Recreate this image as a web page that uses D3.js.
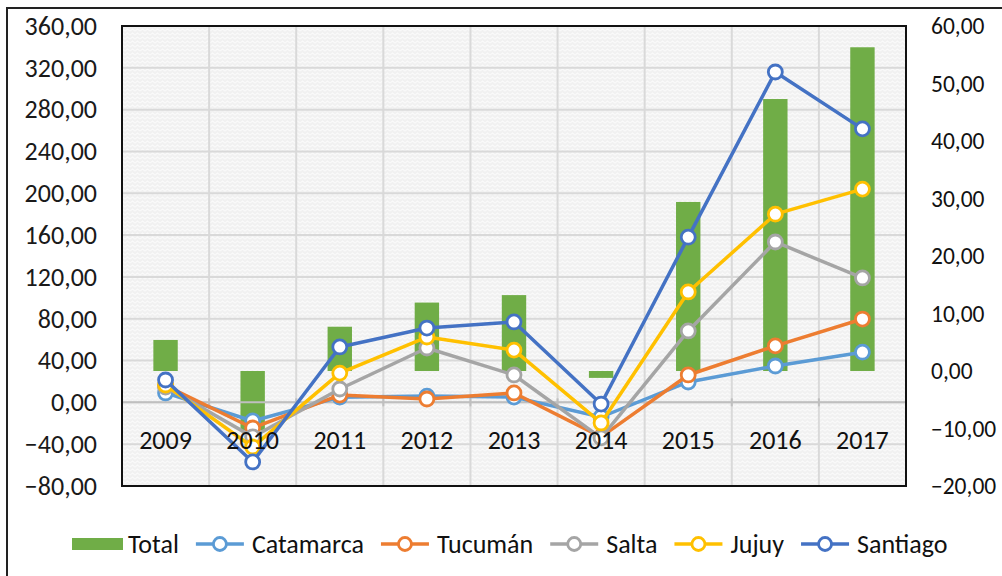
<!DOCTYPE html>
<html>
<head>
<meta charset="utf-8">
<script src="https://cdn.jsdelivr.net/npm/d3@7"></script>
<style>
  body { margin: 0; background: #fff; }
  svg text { font-family: Carlito, Lato, "Open Sans", sans-serif; fill: #111; }
</style>
</head>
<body>
<div id="chart"></div>
<script>
// data
const years = ["2009", "2010", "2011", "2012", "2013", "2014", "2015", "2016", "2017"];
const total     = [5.4, -10.3, 7.7, 11.9, 13.2, -1.2, 29.4, 47.3, 56.3];   // right axis
const catamarca = [9, -17.8, 5, 6, 5, -14, 19.5, 34.8, 48];
const tucuman   = [16, -24.5, 7, 3.2, 9, -33, 26.2, 54, 79.7];
const salta     = [14.7, -33, 12.8, 52, 26.2, -34, 68.3, 153.4, 119];
const jujuy     = [16.6, -42.7, 28, 62.5, 50, -19.7, 105.6, 180, 204];
const santiago  = [21.4, -57, 53, 71.1, 76.9, -1.6, 158, 316, 261.6];
const leftTicks  = [-80, -40, 0, 40, 80, 120, 160, 200, 240, 280, 320, 360];
const rightTicks = [-20, -10, 0, 10, 20, 30, 40, 50, 60];

const series = [
  {name: "Catamarca", values: catamarca, color: "#5b9bd5"},
  {name: "Tucumán",   values: tucuman,   color: "#ed7d31"},
  {name: "Salta",     values: salta,     color: "#a5a5a5"},
  {name: "Jujuy",     values: jujuy,     color: "#ffc000"},
  {name: "Santiago",  values: santiago,  color: "#4472c4"}
];
const green = "#70ad47";

const W = 1002, H = 576;
const plot = {left: 122, right: 906, top: 26, bottom: 486};
const fs = 26;

const svg = d3.select("#chart").append("svg")
  .attr("width", W).attr("height", H);

// texture for the plot area
const defs = svg.append("defs");
const pat = defs.append("pattern")
  .attr("id", "tex").attr("patternUnits", "userSpaceOnUse")
  .attr("width", 10).attr("height", 8);
pat.append("rect").attr("width", 10).attr("height", 8).attr("fill", "#f1f1f1");
pat.append("path").attr("d", "M0,3 L2.5,1 L5,3 L7.5,1 L10,3 M0,7 L2.5,5 L5,7 L7.5,5 L10,7")
  .attr("fill", "none").attr("stroke", "#fafafa").attr("stroke-width", 1.2);

// outer frame (cut at right and bottom, like the source)
svg.append("rect")
  .attr("x", 7).attr("y", 8).attr("width", 1010).attr("height", 600)
  .attr("fill", "none").attr("stroke", "#222").attr("stroke-width", 2);

const x = d3.scaleBand().domain(years).range([plot.left, plot.right]);
const yL = d3.scaleLinear().domain([-80, 360]).range([plot.bottom, plot.top]);
const yR = d3.scaleLinear().domain([-20, 60]).range([plot.bottom, plot.top]);

svg.append("rect")
  .attr("x", plot.left).attr("y", plot.top)
  .attr("width", plot.right - plot.left).attr("height", plot.bottom - plot.top)
  .attr("fill", "url(#tex)");

// gridlines
svg.append("g").selectAll("line").data(leftTicks).join("line")
  .attr("x1", plot.left).attr("x2", plot.right)
  .attr("y1", d => yL(d)).attr("y2", d => yL(d))
  .attr("stroke", "#d9d9d9").attr("stroke-width", 2);
svg.append("g").selectAll("line").data(years.slice(1)).join("line")
  .attr("x1", d => x(d)).attr("x2", d => x(d))
  .attr("y1", plot.top).attr("y2", plot.bottom)
  .attr("stroke", "#d9d9d9").attr("stroke-width", 2);

const fmt = d => d3.format(".2f")(d).replace(".", ",");

// left axis
svg.append("g")
  .attr("transform", `translate(${plot.left},0)`)
  .call(d3.axisLeft(yL).tickValues(leftTicks).tickSize(0).tickPadding(25).tickFormat(fmt))
  .call(g => g.select(".domain").remove())
  .selectAll("text").attr("font-size", fs).style("fill", "#1a1a1a");

// right axis
svg.append("g")
  .attr("transform", `translate(${plot.right},0)`)
  .call(d3.axisRight(yR).tickValues(rightTicks).tickSize(0).tickPadding(25).tickFormat(fmt))
  .call(g => g.select(".domain").remove())
  .selectAll("text").attr("font-size", 23.5).style("fill", "#111");

// bars (Total, right axis)
const bw = x.bandwidth() * 0.28;
svg.append("g").selectAll("rect").data(total).join("rect")
  .attr("x", (d, i) => x(years[i]) + x.bandwidth() / 2 - bw / 2)
  .attr("width", bw)
  .attr("y", d => yR(Math.max(0, d)))
  .attr("height", d => Math.abs(yR(d) - yR(0)))
  .attr("fill", green);

// category axis at left zero
const cat = svg.append("g").attr("transform", `translate(0,${yL(0)})`);
cat.append("line").attr("x1", plot.left).attr("x2", plot.right)
  .attr("stroke", "#bfbfbf").attr("stroke-width", 2);
cat.selectAll(".tk").data(years.concat(["end"])).join("line")
  .attr("x1", (d, i) => plot.left + i * x.step()).attr("x2", (d, i) => plot.left + i * x.step())
  .attr("y1", -4).attr("y2", 4)
  .attr("stroke", "#bfbfbf").attr("stroke-width", 2);

// lines (left axis)
const line = d3.line()
  .x((d, i) => x(years[i]) + x.bandwidth() / 2)
  .y(d => yL(d));
series.forEach(s => {
  const g = svg.append("g");
  g.append("path").datum(s.values)
    .attr("d", line)
    .attr("fill", "none").attr("stroke", s.color)
    .attr("stroke-width", 3.5).attr("stroke-linejoin", "round");
  g.selectAll("circle").data(s.values).join("circle")
    .attr("cx", (d, i) => x(years[i]) + x.bandwidth() / 2)
    .attr("cy", d => yL(d))
    .attr("r", 7)
    .attr("fill", "#fff").attr("stroke", s.color).attr("stroke-width", 2.8);
});

// category labels sit on top of the lines
svg.append("g").selectAll("text").data(years).join("text")
  .attr("x", d => x(d) + x.bandwidth() / 2)
  .attr("y", 440)
  .attr("dy", "0.35em")
  .attr("text-anchor", "middle")
  .attr("font-size", fs)
  .text(d => d);

// plot frame
svg.append("rect")
  .attr("x", plot.left).attr("y", plot.top)
  .attr("width", plot.right - plot.left).attr("height", plot.bottom - plot.top)
  .attr("fill", "none").attr("stroke", "#111").attr("stroke-width", 2);

// legend
const legendItems = [{name: "Total", color: green, bar: true}]
  .concat(series.map(s => ({name: s.name, color: s.color, bar: false})));
const leg = svg.append("g").attr("transform", "translate(0,544)");
let lx = 72;
legendItems.forEach(it => {
  const g = leg.append("g").attr("transform", `translate(${lx},0)`);
  if (it.bar) {
    g.append("rect").attr("x", 0).attr("y", -6).attr("width", 51).attr("height", 12).attr("fill", it.color);
  } else {
    g.append("line").attr("x1", 0).attr("x2", 48).attr("stroke", it.color).attr("stroke-width", 3.5);
    g.append("circle").attr("cx", 24).attr("r", 6.5).attr("fill", "#fff")
      .attr("stroke", it.color).attr("stroke-width", 2.8);
  }
  const t = g.append("text").attr("x", 56).attr("dy", "0.35em")
    .attr("font-size", fs).text(it.name);
  lx += 56 + t.node().getComputedTextLength() + 17;
});
</script>
</body>
</html>
